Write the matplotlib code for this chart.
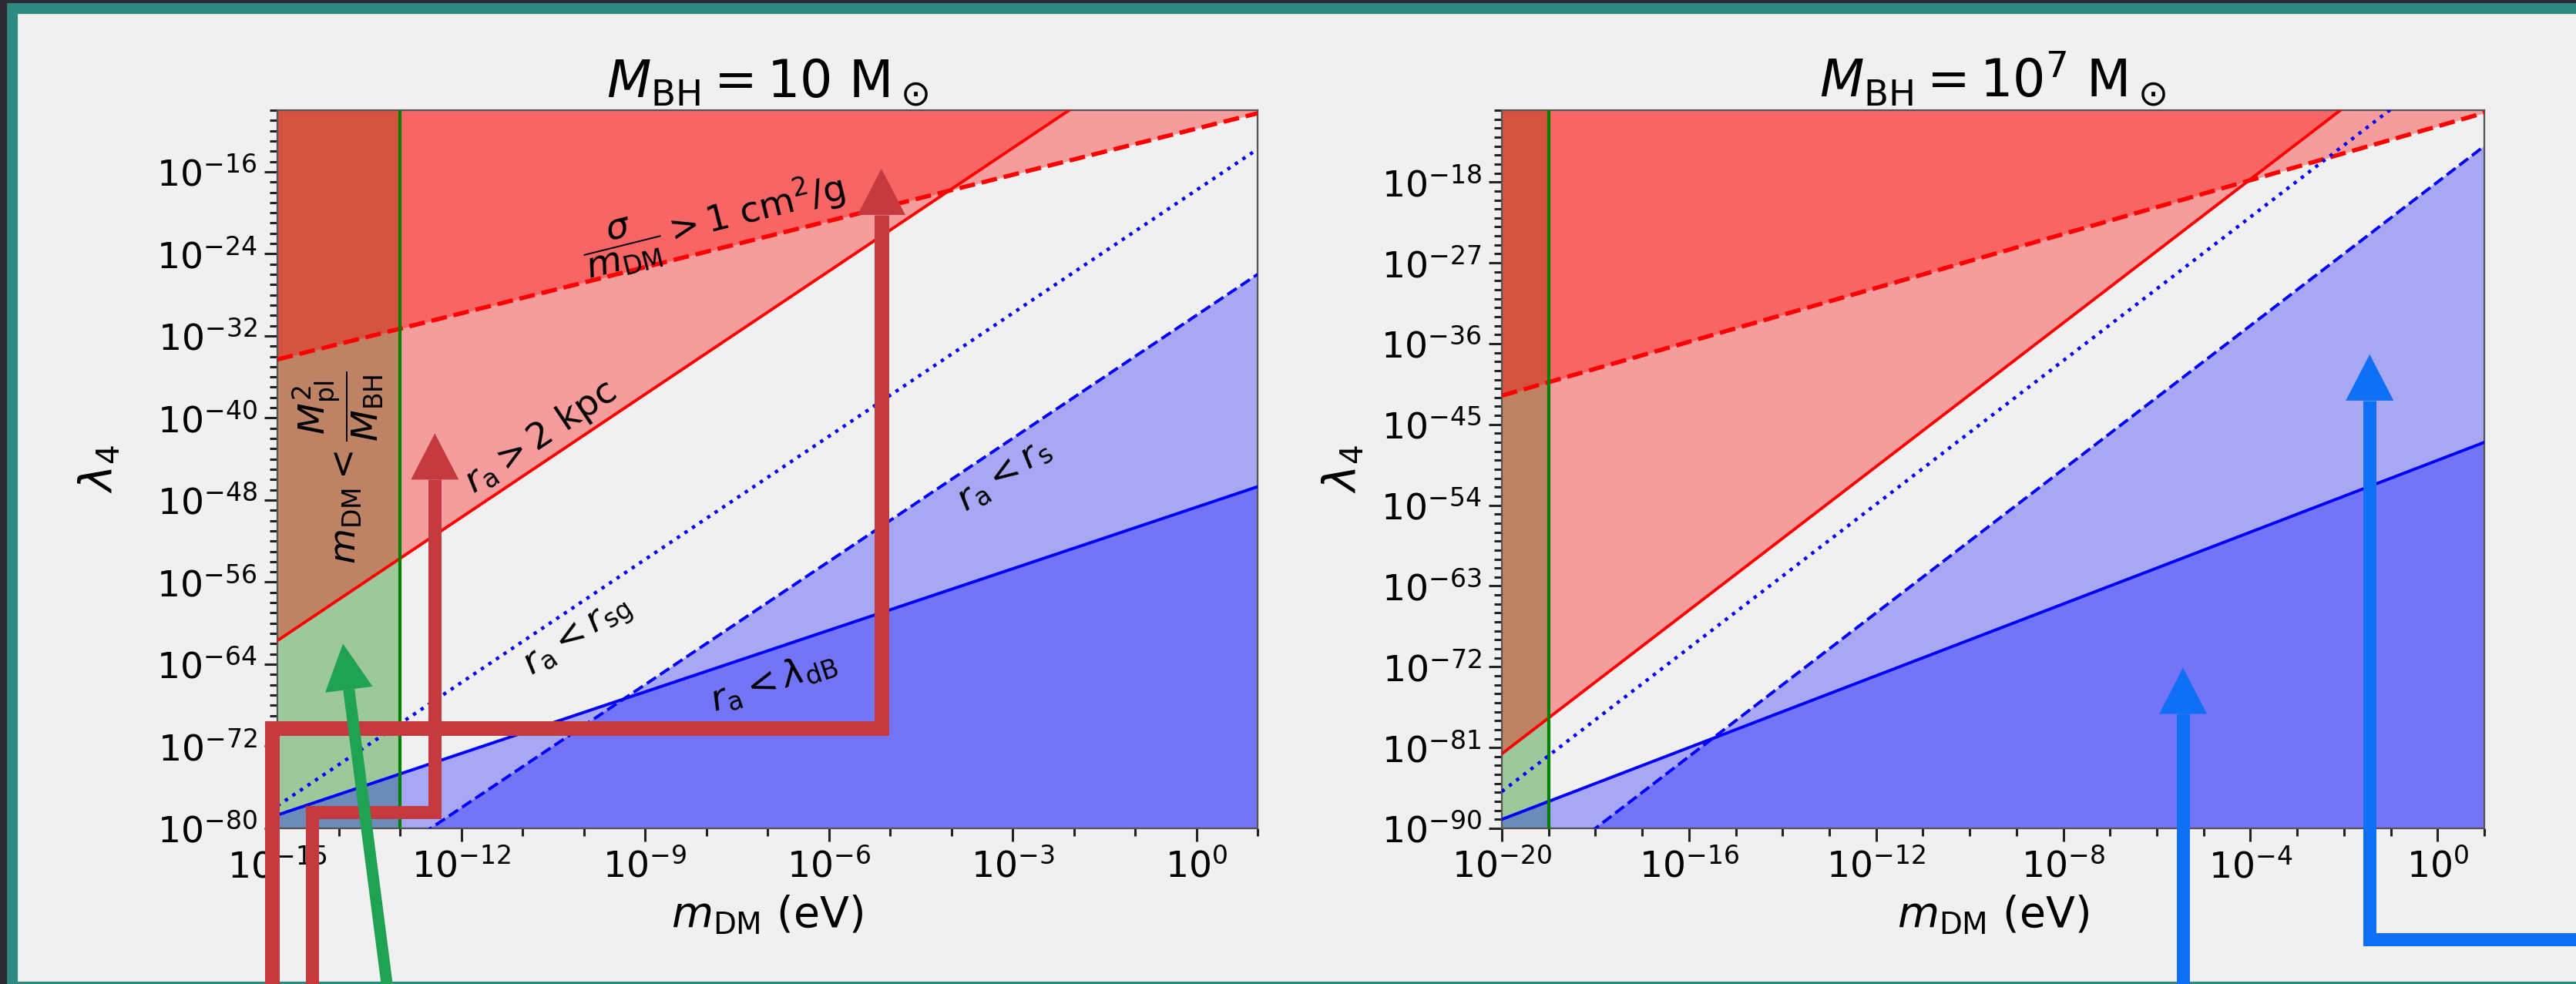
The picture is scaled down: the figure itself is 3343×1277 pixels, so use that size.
import numpy as np
import matplotlib
matplotlib.use('Agg')
import matplotlib.pyplot as plt
from matplotlib.patches import Rectangle, Polygon
from matplotlib.lines import Line2D
from matplotlib.transforms import IdentityTransform
from matplotlib.ticker import FixedLocator, FuncFormatter, NullFormatter

# ---------------------------------------------------------------
# data (log10 values)
# ---------------------------------------------------------------
# M_BH = 10 Msun
x_left = [-15.0, 1.0]
sigma_left = [-34.3, -10.3]     # sigma/m > 1 cm^2/g  (dashed red)
kpc_left = [-61.7, 2.3]         # r_a > 2 kpc         (solid red)
rsg_left = [-77.8, -13.8]       # r_a < r_sg          (dotted blue)
rs_left = [-90.0, -26.0]        # r_a < r_s           (dashed blue)
dB_left = [-78.7, -46.7]        # r_a < lambda_dB     (solid blue)
mlim_left = -13.0               # m_DM < M_pl^2 / M_BH

# M_BH = 1e7 Msun
x_right = [-20.0, 1.0]
sigma_right = [-41.8, -10.3]
kpc_right = [-81.7, 2.3]
rsg_right = [-85.9, -1.9]
rs_right = [-98.0, -14.0]
dB_right = [-89.0, -47.0]
mlim_right = -19.0

xticks_left = [-15, -12, -9, -6, -3, 0]
yticks_left = [-80, -72, -64, -56, -48, -40, -32, -24, -16]
xticks_right = [-20, -16, -12, -8, -4, 0]
yticks_right = [-90, -81, -72, -63, -54, -45, -36, -27, -18]

# overlay arrows (log10 data coords, None = runs off the figure edge)
red_path_a = [(-15.09, None), (-15.09, -70.25), (-5.14, -70.25), (-5.14, -15.7)]
red_path_b = [(-14.43, None), (-14.43, -78.4), (-12.43, -78.4), (-12.43, -41.5)]
green_path = [(-13.18, None), (-13.93, -62.0)]
blue_path_a = [(-5.44, None), (-5.44, -72.1)]
blue_path_b = [(None, -102.4), (-1.45, -102.4), (-1.45, -37.2)]

# ---------------------------------------------------------------
W, H, DPI = 3343, 1277, 200
BG = '#f0f0f0'
fig = plt.figure(figsize=(W / DPI, H / DPI), dpi=DPI, facecolor='#2c2a33')

# presentation frame
fig.add_artist(Rectangle((10 / W, 0), 1, (H - 5) / H, transform=fig.transFigure,
                         color='#2e8a80', zorder=-10))
fig.add_artist(Rectangle((24 / W, 5 / H), 1, (H - 24) / H, transform=fig.transFigure,
                         color=BG, zorder=-9))

ax1 = fig.add_axes([360 / W, 1 - 1075 / H, 1272 / W, 932 / H])
ax2 = fig.add_axes([1949 / W, 1 - 1075 / H, 1275 / W, 932 / H])


def panel(ax, x, sigma, kpc, rsg, rs, dB, mlim, ylim, xt, yt, title, ypad):
    mx = 10.0 ** np.array(x)
    ax.set_facecolor(BG)
    ax.axvspan(mx[0], 10.0 ** mlim, color='green', alpha=0.35, lw=0, zorder=1)
    ax.fill_between(mx, 10.0 ** np.array(kpc), 1e20, color='red', alpha=0.35, lw=0, zorder=2)
    ax.fill_between(mx, 10.0 ** np.array(sigma), 1e20, color='red', alpha=0.35, lw=0, zorder=2)
    ax.fill_between(mx, 1e-150, 10.0 ** np.array(rs), color='blue', alpha=0.3, lw=0, zorder=2)
    ax.fill_between(mx, 1e-150, 10.0 ** np.array(dB), color='blue', alpha=0.3, lw=0, zorder=2)

    ax.plot(mx, 10.0 ** np.array(sigma), color='red', ls='--', lw=2.0, zorder=4)
    ax.plot(mx, 10.0 ** np.array(kpc), color='red', ls='-', lw=1.4, zorder=4)
    ax.plot(mx, 10.0 ** np.array(rsg), color='blue', ls=':', lw=1.6, zorder=4)
    ax.plot(mx, 10.0 ** np.array(rs), color='blue', ls='--', lw=1.4, zorder=4)
    ax.plot(mx, 10.0 ** np.array(dB), color='blue', ls='-', lw=1.4, zorder=4)
    ax.axvline(10.0 ** mlim, color='green', lw=1.5, zorder=4)

    ax.set_xscale('log')
    ax.set_yscale('log')
    ax.set_xlim(mx[0], mx[1])
    ax.set_ylim(10.0 ** ylim[0], 10.0 ** ylim[1])

    ax.xaxis.set_major_locator(FixedLocator([10.0 ** k for k in xt]))
    ax.xaxis.set_minor_locator(FixedLocator([10.0 ** k for k in range(int(x[0]), int(x[1]) + 1)]))
    ax.yaxis.set_major_locator(FixedLocator([10.0 ** k for k in yt]))
    ax.yaxis.set_minor_locator(FixedLocator([10.0 ** k for k in range(ylim[0], ylim[1] + 1)]))
    fmt = FuncFormatter(lambda v, p: r'$\mathdefault{10^{%d}}$' % round(np.log10(v)))
    ax.xaxis.set_major_formatter(fmt)
    ax.yaxis.set_major_formatter(fmt)
    ax.xaxis.set_minor_formatter(NullFormatter())
    ax.yaxis.set_minor_formatter(NullFormatter())
    ax.tick_params(which='major', length=6, width=1.1, labelsize=17, color='#222222')
    ax.tick_params(which='minor', length=3.5, width=1.1, color='#222222')

    for s in ax.spines.values():
        s.set_color('#555555')
        s.set_linewidth(0.8)

    ax.set_title(title, fontsize=24, pad=6)
    ax.set_xlabel(r'$m_{\rm DM}$ (eV)', fontsize=20)
    ax.set_ylabel(r'$\lambda_4$', fontsize=21, labelpad=ypad)


panel(ax1, x_left, sigma_left, kpc_left, rsg_left, rs_left, dB_left, mlim_left,
      (-80, -10), xticks_left, yticks_left, r'$M_{\rm BH} = 10\ {\rm M}_\odot$', 16)
panel(ax2, x_right, sigma_right, kpc_right, rsg_right, rs_right, dB_right, mlim_right,
      (-90, -10), xticks_right, yticks_right, r'$M_{\rm BH} = 10^7\ {\rm M}_\odot$', 7)

# region labels (left panel only)
txt = dict(fontsize=17, ha='center', va='center', rotation_mode='anchor', zorder=5)
ax1.text(10 ** -7.87, 10 ** -21.2, r'$\dfrac{\sigma}{m_{\rm DM}} > 1\ {\rm cm}^2/{\rm g}$',
         rotation=14, **txt)
ax1.text(10 ** -14.0, 10 ** -44.8, r'$m_{\rm DM} < \dfrac{M_{\rm pl}^2}{M_{\rm BH}}$',
         rotation=90, **txt)
ax1.text(10 ** -10.7, 10 ** -41.9, r'$r_{\rm a} > 2$ kpc', rotation=33.8, **txt)
ax1.text(10 ** -10.08, 10 ** -61.5, r'$r_{\rm a} < r_{\rm sg}$', rotation=33.8, **txt)
ax1.text(10 ** -3.15, 10 ** -45.5, r'$r_{\rm a} < r_{\rm s}$', rotation=33.8, **txt)
ax1.text(10 ** -6.91, 10 ** -65.6, r'$r_{\rm a} < \lambda_{\rm dB}$', rotation=18.5, **txt)


# ---------------------------------------------------------------
# overlay arrows
# ---------------------------------------------------------------
def to_px(ax, pt):
    lx, ly = pt
    xd = 1.0 if lx is None else 10.0 ** lx
    yd = 1.0 if ly is None else 10.0 ** ly
    px, py = ax.transData.transform((xd, yd))
    if lx is None:
        px = W + 20
    if ly is None:
        py = -20
    return np.array([px, py])


def overlay_arrow(ax, path, color, lw_px, head_w=62, head_l=60):
    pts = [to_px(ax, p) for p in path]
    tip, prev = pts[-1], pts[-2]
    d = (tip - prev) / np.hypot(*(tip - prev))
    base = tip - d * head_l
    line = np.array(pts[:-1] + [base])
    fig.add_artist(Line2D(line[:, 0], line[:, 1], transform=IdentityTransform(),
                          lw=lw_px * 72 / DPI, color=color, solid_joinstyle='miter',
                          solid_capstyle='butt', zorder=20))
    perp = np.array([-d[1], d[0]])
    head = [base + perp * head_w / 2, tip, base - perp * head_w / 2]
    fig.add_artist(Polygon(head, closed=True, transform=IdentityTransform(),
                           color=color, lw=0, zorder=21))


overlay_arrow(ax1, red_path_a, '#c43a3f', 19)
overlay_arrow(ax1, red_path_b, '#c43a3f', 17)
overlay_arrow(ax1, green_path, '#1fa352', 15)
overlay_arrow(ax2, blue_path_a, '#0f6ff5', 17)
overlay_arrow(ax2, blue_path_b, '#0f6ff5', 17)

fig.savefig('out.png', dpi=DPI, facecolor=fig.get_facecolor())
